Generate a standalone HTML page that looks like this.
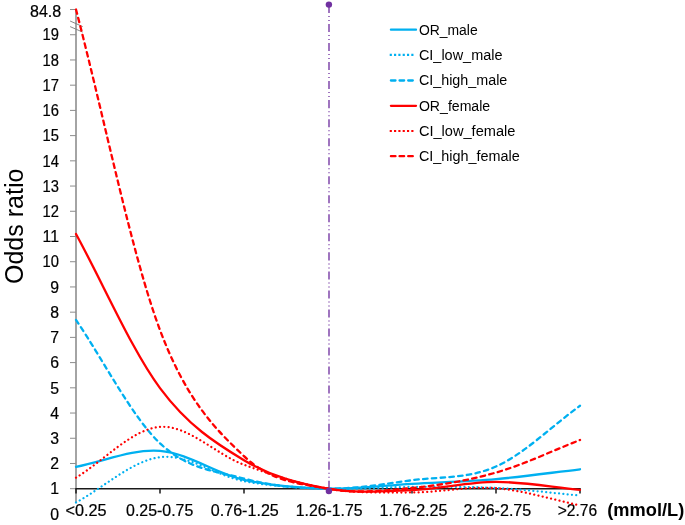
<!DOCTYPE html>
<html><head><meta charset="utf-8"><title>Odds ratio chart</title>
<style>html,body{margin:0;padding:0;background:#fff}svg{display:block}text{font-family:"Liberation Sans",sans-serif;fill:#000}</style></head><body>
<svg width="685" height="525" viewBox="0 0 685 525">
<rect width="685" height="525" fill="#fff"/>
<g stroke="#a0a0a0" stroke-width="1.9" fill="none">
<line x1="76" y1="8.92" x2="76" y2="503.3"/>
</g><g stroke="#8c8c8c" stroke-width="1.0" fill="none">
<line x1="70" y1="488.70" x2="76" y2="488.70"/>
<line x1="70" y1="463.48" x2="76" y2="463.48"/>
<line x1="70" y1="438.26" x2="76" y2="438.26"/>
<line x1="70" y1="413.04" x2="76" y2="413.04"/>
<line x1="70" y1="387.82" x2="76" y2="387.82"/>
<line x1="70" y1="362.60" x2="76" y2="362.60"/>
<line x1="70" y1="337.38" x2="76" y2="337.38"/>
<line x1="70" y1="312.16" x2="76" y2="312.16"/>
<line x1="70" y1="286.94" x2="76" y2="286.94"/>
<line x1="70" y1="261.72" x2="76" y2="261.72"/>
<line x1="70" y1="236.50" x2="76" y2="236.50"/>
<line x1="70" y1="211.28" x2="76" y2="211.28"/>
<line x1="70" y1="186.06" x2="76" y2="186.06"/>
<line x1="70" y1="160.84" x2="76" y2="160.84"/>
<line x1="70" y1="135.62" x2="76" y2="135.62"/>
<line x1="70" y1="110.40" x2="76" y2="110.40"/>
<line x1="70" y1="85.18" x2="76" y2="85.18"/>
<line x1="70" y1="59.96" x2="76" y2="59.96"/>
<line x1="70" y1="34.74" x2="76" y2="34.74"/>
<line x1="70" y1="9.52" x2="76" y2="9.52"/>
</g>
<g stroke="#7a7a7a" stroke-width="0.9" fill="none"><line x1="70.1" y1="21" x2="82.7" y2="26.6"/><line x1="70.1" y1="26.6" x2="82.7" y2="32.1"/></g>
<g stroke="#1a1a1a" fill="none"><line x1="75.3" y1="488.7" x2="580.7" y2="488.7" stroke-width="1.4"/>
<line x1="76.0" y1="488.7" x2="76.0" y2="493.6" stroke-width="1.5"/>
<line x1="160.0" y1="488.7" x2="160.0" y2="493.6" stroke-width="1.5"/>
<line x1="244.0" y1="488.7" x2="244.0" y2="493.6" stroke-width="1.5"/>
<line x1="328.0" y1="488.7" x2="328.0" y2="493.6" stroke-width="1.5"/>
<line x1="412.0" y1="488.7" x2="412.0" y2="493.6" stroke-width="1.5"/>
<line x1="496.0" y1="488.7" x2="496.0" y2="493.6" stroke-width="1.5"/>
<line x1="580.0" y1="488.7" x2="580.0" y2="493.6" stroke-width="1.5"/>
</g>
<g font-size="15.8" text-anchor="end" stroke="#000" stroke-width="0.2">
<text x="59.0" y="519.62" textLength="8.8" lengthAdjust="spacingAndGlyphs">0</text>
<text x="59.0" y="494.40" textLength="8.8" lengthAdjust="spacingAndGlyphs">1</text>
<text x="59.0" y="469.18" textLength="8.8" lengthAdjust="spacingAndGlyphs">2</text>
<text x="59.0" y="443.96" textLength="8.8" lengthAdjust="spacingAndGlyphs">3</text>
<text x="59.0" y="418.74" textLength="8.8" lengthAdjust="spacingAndGlyphs">4</text>
<text x="59.0" y="393.52" textLength="8.8" lengthAdjust="spacingAndGlyphs">5</text>
<text x="59.0" y="368.30" textLength="8.8" lengthAdjust="spacingAndGlyphs">6</text>
<text x="59.0" y="343.08" textLength="8.8" lengthAdjust="spacingAndGlyphs">7</text>
<text x="59.0" y="317.86" textLength="8.8" lengthAdjust="spacingAndGlyphs">8</text>
<text x="59.0" y="292.64" textLength="8.8" lengthAdjust="spacingAndGlyphs">9</text>
<text x="59.0" y="267.42" textLength="16.4" lengthAdjust="spacingAndGlyphs">10</text>
<text x="59.0" y="242.20" textLength="16.4" lengthAdjust="spacingAndGlyphs">11</text>
<text x="59.0" y="216.98" textLength="16.4" lengthAdjust="spacingAndGlyphs">12</text>
<text x="59.0" y="191.76" textLength="16.4" lengthAdjust="spacingAndGlyphs">13</text>
<text x="59.0" y="166.54" textLength="16.4" lengthAdjust="spacingAndGlyphs">14</text>
<text x="59.0" y="141.32" textLength="16.4" lengthAdjust="spacingAndGlyphs">15</text>
<text x="59.0" y="116.10" textLength="16.4" lengthAdjust="spacingAndGlyphs">16</text>
<text x="59.0" y="90.88" textLength="16.4" lengthAdjust="spacingAndGlyphs">17</text>
<text x="59.0" y="65.66" textLength="16.4" lengthAdjust="spacingAndGlyphs">18</text>
<text x="59.0" y="40.44" textLength="16.4" lengthAdjust="spacingAndGlyphs">19</text>
<text x="61.2" y="17.1" textLength="31.2" lengthAdjust="spacingAndGlyphs">84.8</text>
</g>
<g font-size="15.8" stroke="#000" stroke-width="0.2">
<text x="65.5" y="515.7" textLength="41.1" lengthAdjust="spacingAndGlyphs">&lt;0.25</text>
<text x="126.1" y="515.7" textLength="67.2" lengthAdjust="spacingAndGlyphs">0.25-0.75</text>
<text x="210.8" y="515.7" textLength="68.0" lengthAdjust="spacingAndGlyphs">0.76-1.25</text>
<text x="295.8" y="515.7" textLength="66.8" lengthAdjust="spacingAndGlyphs">1.26-1.75</text>
<text x="379.6" y="515.5" textLength="67.8" lengthAdjust="spacingAndGlyphs">1.76-2.25</text>
<text x="463.4" y="516.2" textLength="67.8" lengthAdjust="spacingAndGlyphs">2.26-2.75</text>
<text x="557.7" y="515.5" textLength="39.4" lengthAdjust="spacingAndGlyphs">&gt;2.76</text>
</g>
<text x="607.3" y="515.8" font-size="17.8" font-weight="bold" textLength="77" lengthAdjust="spacingAndGlyphs">(mmol/L)</text>
<text transform="translate(23.3 284) rotate(-90)" font-size="26.5" textLength="115.4" lengthAdjust="spacingAndGlyphs">Odds ratio</text>
<line x1="329" y1="4.97" x2="329" y2="491" stroke="#7030a0" stroke-width="1.33" stroke-dasharray="8.02 3 1 3 1 3.01"/>
<circle cx="328.9" cy="4.6" r="3.2" fill="#7030a0"/>
<path d="M76.00 466.76 C104.00 461.46 132.00 448.68 160.00 450.87 C188.00 453.06 216.00 473.57 244.00 479.87 C272.00 486.18 300.00 488.05 328.00 488.70 C356.00 489.35 384.00 485.38 412.00 483.78 C440.00 482.18 468.00 481.53 496.00 479.12 C524.00 476.70 552.00 472.56 580.00 469.28" fill="none" stroke="#00B0F0" stroke-width="2.3" stroke-linecap="round"/>
<path d="M76.00 502.44 C104.00 487.35 132.00 460.73 160.00 457.18 C188.00 453.62 216.00 475.88 244.00 481.13 C272.00 486.39 300.00 487.73 328.00 488.70 C356.00 489.67 384.00 487.06 412.00 486.93 C440.00 486.81 468.00 486.51 496.00 487.94 C524.00 489.37 552.00 492.99 580.00 495.51" fill="none" stroke="#00B0F0" stroke-width="2.25" stroke-dasharray="0.01 4.3" stroke-linecap="round"/>
<path d="M76.00 319.98 C104.00 361.09 132.00 416.87 160.00 443.30 C188.00 469.74 216.00 471.05 244.00 478.61 C272.00 486.18 300.00 488.43 328.00 488.70 C356.00 488.97 384.00 483.95 412.00 480.25 C440.00 476.55 468.00 478.93 496.00 466.51 C524.00 454.09 552.00 425.99 580.00 405.73" fill="none" stroke="#00B0F0" stroke-width="2.3" stroke-dasharray="4.5 4.3" stroke-linecap="round"/>
<path d="M76.00 233.98 C104.00 285.34 132.00 350.37 160.00 388.07 C188.00 425.78 216.00 443.43 244.00 460.20 C272.00 476.97 300.00 483.72 328.00 488.70 C356.00 493.68 384.00 491.22 412.00 490.09 C440.00 488.95 468.00 481.91 496.00 481.89 C524.00 481.87 552.00 487.27 580.00 489.96" fill="none" stroke="#FF0000" stroke-width="2.3" stroke-linecap="round"/>
<path d="M76.00 477.60 C104.00 460.71 132.00 429.05 160.00 426.91 C188.00 424.77 216.00 454.44 244.00 464.74 C272.00 475.04 300.00 484.08 328.00 488.70 C356.00 493.32 384.00 492.57 412.00 492.48 C440.00 492.40 468.00 486.05 496.00 488.20 C524.00 490.34 552.00 499.63 580.00 505.35" fill="none" stroke="#FF0000" stroke-width="2.25" stroke-dasharray="0.01 4.3" stroke-linecap="round"/>
<path d="M76.00 9.52 C104.00 116.37 132.00 255.63 160.00 330.07 C186.67 400.97 216.00 429.73 244.00 456.17 C272.00 482.61 300.00 483.40 328.00 488.70 C356.00 494.00 384.00 490.63 412.00 487.94 C440.00 485.25 468.00 480.55 496.00 472.56 C524.00 464.57 552.00 450.87 580.00 440.03" fill="none" stroke="#FF0000" stroke-width="2.3" stroke-dasharray="4.5 4.3" stroke-linecap="round"/>
<circle cx="328.9" cy="491" r="3.2" fill="#7030a0"/>
<line x1="390.9" y1="29.7" x2="416.0" y2="29.7" stroke="#00B0F0" stroke-width="2.25" stroke-linecap="round"/>
<text x="418.9" y="34.6" font-size="15.1" textLength="58.8" lengthAdjust="spacingAndGlyphs">OR_male</text>
<line x1="389.7" y1="54.9" x2="413.6" y2="54.9" stroke="#00B0F0" stroke-width="2.2" stroke-dasharray="2.16 2.16"/>
<text x="418.9" y="59.8" font-size="15.1" textLength="83.6" lengthAdjust="spacingAndGlyphs">CI_low_male</text>
<line x1="390.9" y1="80.5" x2="413.0" y2="80.5" stroke="#00B0F0" stroke-width="2.3" stroke-dasharray="4.6 4.05" stroke-linecap="round"/>
<text x="418.9" y="85.4" font-size="15.1" textLength="88.4" lengthAdjust="spacingAndGlyphs">CI_high_male</text>
<line x1="390.9" y1="105.8" x2="416.0" y2="105.8" stroke="#FF0000" stroke-width="2.25" stroke-linecap="round"/>
<text x="418.9" y="110.7" font-size="15.1" textLength="71.3" lengthAdjust="spacingAndGlyphs">OR_female</text>
<line x1="389.7" y1="131.0" x2="413.6" y2="131.0" stroke="#FF0000" stroke-width="2.2" stroke-dasharray="2.16 2.16"/>
<text x="418.9" y="135.9" font-size="15.1" textLength="96.5" lengthAdjust="spacingAndGlyphs">CI_low_female</text>
<line x1="390.9" y1="156.2" x2="413.0" y2="156.2" stroke="#FF0000" stroke-width="2.3" stroke-dasharray="4.6 4.05" stroke-linecap="round"/>
<text x="418.9" y="161.1" font-size="15.1" textLength="100.9" lengthAdjust="spacingAndGlyphs">CI_high_female</text>
</svg></body></html>
